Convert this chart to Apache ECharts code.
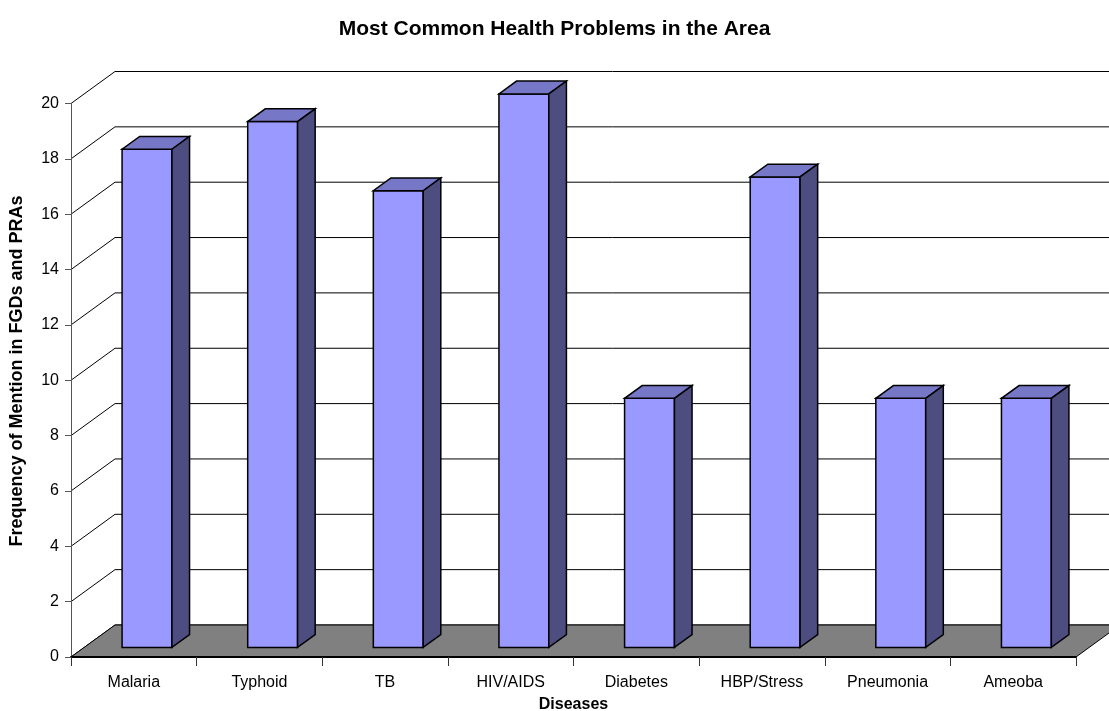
<!DOCTYPE html>
<html>
<head>
<meta charset="utf-8">
<script src="https://cdn.jsdelivr.net/npm/echarts@6/dist/echarts.min.js"></script>
<style>
  html, body { margin: 0; padding: 0; background: #ffffff; }
  #chart { width: 1109px; height: 711px; }
</style>
</head>
<body>
<div id="chart"></div>
<script>
// Chart data
const categories = ['Malaria', 'Typhoid', 'TB', 'HIV/AIDS', 'Diabetes', 'HBP/Stress', 'Pneumonia', 'Ameoba'];
const frequencies = [18, 19, 16.5, 20, 9, 17, 9, 9];
const yTicks = [0, 2, 4, 6, 8, 10, 12, 14, 16, 18, 20];

// 3D depth of the plot box (pixels) and bar placement inside it
const DEPTH_X = 44;
const DEPTH_Y = -32;
const BAR_FRONT = 0.3;   // fraction of depth where the bar front face sits
const BAR_BACK = 0.7;    // fraction of depth where the bar back face sits
const BAR_WIDTH = 0.397; // fraction of category band

const FONT = "'Liberation Sans', Arial, sans-serif";

const chart = echarts.init(document.getElementById('chart'));

// Back and side wall gridlines
function renderWalls(params, api) {
  const cs = params.coordSys;
  const v = api.value(0);
  const y = api.coord([0, v])[1];
  return {
    type: 'polyline',
    shape: {
      points: [
        [cs.x, y],
        [cs.x + DEPTH_X, y + DEPTH_Y],
        [cs.x + cs.width + DEPTH_X, y + DEPTH_Y]
      ]
    },
    style: { stroke: '#000000', lineWidth: 1, fill: null }
  };
}

// Gray floor
function renderFloor(params, api) {
  const cs = params.coordSys;
  const y0 = api.coord([0, 0])[1];
  return {
    type: 'polygon',
    shape: {
      points: [
        [cs.x, y0],
        [cs.x + DEPTH_X, y0 + DEPTH_Y],
        [cs.x + cs.width + DEPTH_X, y0 + DEPTH_Y],
        [cs.x + cs.width, y0]
      ]
    },
    style: { fill: '#808080', stroke: '#000000', lineWidth: 1 }
  };
}

// 3D bars: front, top and side faces
function renderBar(params, api) {
  const ci = api.value(0);
  const v = api.value(1);
  const base = api.coord([ci, 0]);
  const top = api.coord([ci, v]);
  const band = api.size([1, 0])[0];
  const w = band * BAR_WIDTH;
  const fx = BAR_FRONT * DEPTH_X, fy = BAR_FRONT * DEPTH_Y;
  const dx = (BAR_BACK - BAR_FRONT) * DEPTH_X, dy = (BAR_BACK - BAR_FRONT) * DEPTH_Y;
  const x0 = base[0] - w / 2 + fx;
  const x1 = x0 + w;
  const yb = base[1] + fy;
  const yt = top[1] + fy;
  const stroke = { stroke: '#000000', lineWidth: 1.5, lineJoin: 'miter' };
  return {
    type: 'group',
    children: [
      {
        type: 'polygon',
        shape: { points: [[x0, yt], [x1, yt], [x1, yb], [x0, yb]] },
        style: Object.assign({ fill: '#9999FF' }, stroke)
      },
      {
        type: 'polygon',
        shape: { points: [[x0, yt], [x1, yt], [x1 + dx, yt + dy], [x0 + dx, yt + dy]] },
        style: Object.assign({ fill: '#7777C8' }, stroke)
      },
      {
        type: 'polygon',
        shape: { points: [[x1, yt], [x1 + dx, yt + dy], [x1 + dx, yb + dy], [x1, yb]] },
        style: Object.assign({ fill: '#4D4D80' }, stroke)
      }
    ]
  };
}

chart.setOption({
  backgroundColor: '#ffffff',
  animation: false,
  title: {
    text: 'Most Common Health Problems in the Area',
    left: 'center',
    top: 14,
    textStyle: { fontFamily: FONT, fontSize: 21, fontWeight: 'bold', color: '#000000' }
  },
  // vertical axis title, centred on the plot box
  graphic: [
    {
      type: 'text',
      x: 17,
      y: 371,
      rotation: Math.PI / 2,
      style: {
        text: 'Frequency of Mention in FGDs and PRAs',
        fontFamily: FONT,
        fontSize: 18,
        fontWeight: 'bold',
        fill: '#000000',
        align: 'center',
        verticalAlign: 'middle'
      }
    }
  ],
  grid: { left: 71, right: 33, top: 103.5, bottom: 54, outerBoundsMode: 'none', containLabel: false },
  xAxis: {
    type: 'category',
    data: categories,
    z: 5,
    name: 'Diseases',
    nameLocation: 'middle',
    nameGap: 40,
    nameTextStyle: { fontFamily: FONT, fontSize: 16, fontWeight: 'bold', color: '#000000' },
    axisLine: { show: true, lineStyle: { color: '#000000', width: 2 } },
    axisTick: { show: true, length: 9, interval: 0, lineStyle: { color: '#333333', width: 1 } },
    axisLabel: { interval: 0, margin: 18, fontFamily: FONT, fontSize: 16, color: '#000000' },
    splitLine: { show: false }
  },
  yAxis: {
    type: 'value',
    min: 0,
    max: 20,
    interval: 2,
    z: 5,
    axisLine: { show: true, lineStyle: { color: '#555555', width: 1 } },
    axisTick: { show: true, length: 6, lineStyle: { color: '#555555', width: 1 } },
    axisLabel: { margin: 12, fontFamily: FONT, fontSize: 16, color: '#000000' },
    splitLine: { show: false }
  },
  series: [
    {
      type: 'custom',
      name: 'walls',
      z: 1,
      silent: true,
      renderItem: renderWalls,
      data: yTicks.map(v => [v])
    },
    {
      type: 'custom',
      name: 'floor',
      z: 2,
      silent: true,
      renderItem: renderFloor,
      data: [[0]]
    },
    {
      type: 'custom',
      name: 'Frequency',
      z: 3,
      renderItem: renderBar,
      encode: { x: 0, y: 1 },
      data: frequencies.map((v, i) => [i, v])
    }
  ]
});
</script>
</body>
</html>
